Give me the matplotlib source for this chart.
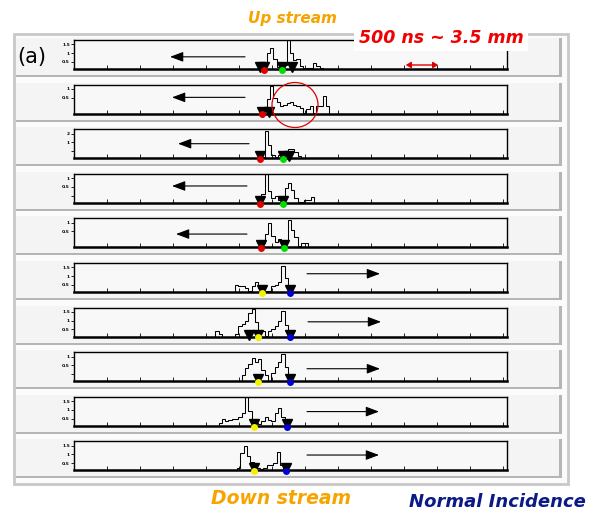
import numpy as np
import matplotlib
matplotlib.use("Agg")
import matplotlib.pyplot as plt
from matplotlib.patches import Rectangle, Ellipse, FancyArrowPatch

W, H = 593, 513
BIN = 50  # ns
XMAX = 6560

# histogram starts (ns) and bin heights (normalised counts)
starts = [2870, 2870, 2840, 2790, 2840, 2440, 2140, 2540, 2190, 2470]
hist1 = [0.1, 0.55, 0.72, 0.35, 0.06, 0.06, 0.15, 1.0, 0.55, 0.3, 0.35, 0.12, 0.05, 0.05, 0.05, 0.2, 0.12, 0.05]
hist2 = [0.15, 0.5, 0.95, 0.55, 0.4, 0.25, 0.3, 0.35, 0.4, 0.3, 0.25, 0.2, 0.02, 0.15, 0.25, 0.02, 0.27, 0.27, 0.62, 0.27]
hist3 = [0.05, 0.94, 0.45, 0.1, 0.05, 0.1, 0.15, 0.2, 0.3, 0.3, 0.2, 0.08, 0.02]
hist4 = [0.05, 0.3, 1.0, 0.4, 0.15, 0.25, 0.1, 0.25, 0.5, 0.68, 0.45, 0.15, 0.02, 0.02, 0.1, 0.1, 0.2]
hist5 = [0.15, 0.45, 0.85, 0.4, 0.2, 0.3, 0.2, 0.25, 0.95, 0.6, 0.35, 0.05, 0.15, 0.15]
hist6 = [0.25, 0.2, 0.2, 0.15, 0.05, 0.2, 0.33, 0.15, 0.02, 0.02, 0.02, 0.2, 0.25, 0.35, 0.9, 0.5, 0.1]
hist7 = [0.2, 0.1, 0, 0, 0, 0, 0.1, 0.35, 0.45, 0.55, 0.8, 0.95, 0.5, 0.2, 0.2, 0.02, 0.2, 0.25, 0.35, 0.55, 0.9, 0.4, 0.1]
hist8 = [0.2, 0.45, 0.6, 0.8, 0.65, 0.75, 0.4, 0.2, 0.02, 0.3, 0.5, 0.65, 0.95, 0.5, 0.1]
hist9 = [0.1, 0.25, 0.15, 0.2, 0.25, 0.25, 0.3, 0.45, 1.0, 0.5, 0.2, 0.1, 0.05, 0.15, 0.3, 0.2, 0.15, 0.45, 0.6, 0.3, 0.1]
hist10 = [0.1, 0.6, 0.85, 0.5, 0.3, 0.12, 0.1, 0.05, 0.1, 0.2, 0.2, 0.25, 0.65, 0.2, 0.05]
hists = [hist1, hist2, hist3, hist4, hist5, hist6, hist7, hist8, hist9, hist10]

# trigger markers: (time ns, dot colour or None)
markers = [
    [(2818, None), (2879, "red"), (3152, "green"), (3303, None)],
    [(2848, "red"), (2955, None)],
    [(2818, "red"), (3167, "green"), (3258, None)],
    [(2818, "red"), (3167, "green")],
    [(2833, "red"), (3182, "green")],
    [(2848, "yellow"), (3273, "blue")],
    [(2652, None), (2788, "yellow"), (3273, "blue")],
    [(2788, "yellow"), (3273, "blue")],
    [(2727, "yellow"), (3227, "blue")],
    [(2727, "yellow"), (3212, "blue")],
]
# direction arrows: (tail ns, tip ns, height fraction)
arrows = [
    (2591, 1455, 0.42), (2591, 1485, 0.56), (2652, 1576, 0.50), (2621, 1485, 0.58), (2621, 1545, 0.46),
    (3530, 4636, 0.63), (3545, 4652, 0.51), (3530, 4636, 0.43), (3530, 4621, 0.49), (3530, 4621, 0.53),
]
ytick_labels = [["1.5", "1", "0.5"], ["1", "0.5"], ["2", "1", ""], ["1", "0.5", ""], ["1", "0.5"],
                ["1.5", "1", "0.5"], ["1.5", "1", "0.5"], ["1", "0.5", ""], ["1.5", "1", "0.5"], ["1.5", "1", "0.5"]]

dot_colors = {"red": "#e00000", "green": "#00dd00", "yellow": "#f2f200", "blue": "#0000d0"}

fig = plt.figure(figsize=(W / 100, H / 100), dpi=100)
fig.patch.set_facecolor("white")


def fx(px):
    return px / W


def fy(py):
    return 1 - py / H


# outer frame
fig.patches.append(Rectangle((fx(14), fy(484)), fx(568) - fx(14), fy(34) - fy(484),
                             transform=fig.transFigure, facecolor="#fbfbfb",
                             edgecolor="#c8c8c8", lw=2, zorder=-3))

AX_L, AX_R = 74, 507
for i in range(10):
    top = 40 + 44.6 * i
    axh = 29
    # strip
    st = top - 2
    sh = 37
    fig.patches.append(Rectangle((fx(16), fy(st + sh)), fx(559) - fx(16), fy(st) - fy(st + sh),
                                 transform=fig.transFigure, facecolor="#f4f4f4",
                                 edgecolor="none", zorder=-2))
    fig.patches.append(Rectangle((fx(559), fy(st + sh)), fx(3), fy(st) - fy(st + sh),
                                 transform=fig.transFigure, facecolor="#b5b5b5",
                                 edgecolor="none", zorder=-2))
    fig.patches.append(Rectangle((fx(16), fy(st + sh + 2)), fx(562) - fx(16), fy(0) - fy(2),
                                 transform=fig.transFigure, facecolor="#b5b5b5",
                                 edgecolor="none", zorder=-2))

    ax = fig.add_axes([fx(AX_L), fy(top + axh), fx(AX_R) - fx(AX_L), fy(top) - fy(top + axh)])
    ax.set_zorder(1)
    ax.set_facecolor("#f8f8f8")
    h = hists[i]
    edges = starts[i] + BIN * np.arange(len(h) + 1)
    ax.stairs(h, edges, color="black", lw=0.75, baseline=0)
    ax.set_xlim(0, XMAX)
    ax.set_ylim(0, 1.0)
    ax.set_xticks(np.arange(500, 6600, 500))
    ax.set_xticklabels([])
    labs = ytick_labels[i]
    pos = [0.85, 0.55, 0.25][:len(labs)]
    ax.set_yticks(pos)
    ax.set_yticklabels(labs, fontsize=3.2, fontweight="bold")
    ax.tick_params(axis="x", direction="in", length=3, width=0.6, pad=1)
    ax.tick_params(axis="y", direction="out", length=2, width=0.6, pad=1)
    for s in ["top", "left", "right"]:
        ax.spines[s].set_linewidth(1.0)
    ax.spines["bottom"].set_linewidth(1.8)

    for (t, c) in markers[i]:
        ax.plot([t], [0.07], marker="v", color="black", markersize=7.5, clip_on=False, zorder=5,
                transform=ax.get_xaxis_transform())
        if c is not None:
            ax.plot([t], [-0.03], marker="o", color=dot_colors[c], markersize=5, markeredgewidth=0,
                    clip_on=False, zorder=6, transform=ax.get_xaxis_transform())

    tail, tip, yy = arrows[i]
    ax.annotate("", xy=(tip, yy), xytext=(tail, yy), xycoords=ax.get_xaxis_transform(),
                textcoords=ax.get_xaxis_transform(),
                arrowprops=dict(arrowstyle="-|>,head_length=0.8,head_width=0.3", lw=0.8,
                                color="black", shrinkA=0, shrinkB=0))

# red circle in panel 2
fig.patches.append(Ellipse((fx(295), fy(105)), fx(46), fy(0) - fy(45), transform=fig.transFigure,
                           facecolor="none", edgecolor="#e00000", lw=0.9, zorder=10))

fig.text(fx(292), fy(18), "Up stream", color="#f7a400", fontsize=11, fontweight="bold",
         style="italic", ha="center", va="center")
fig.text(fx(281), fy(498), "Down stream", color="#f7a400", fontsize=13.5, fontweight="bold",
         style="italic", ha="center", va="center")
fig.text(fx(497), fy(502), "Normal Incidence", color="#0c1a86", fontsize=13, fontweight="bold",
         style="italic", ha="center", va="center")
fig.text(fx(32), fy(57), "(a)", color="black", fontsize=15, ha="center", va="center")
fig.text(fx(441), fy(38), "500 ns ~ 3.5 mm", color="#f00000", fontsize=12.5, fontweight="bold",
         style="italic", ha="center", va="center", zorder=20,
         bbox=dict(facecolor="white", edgecolor="none", pad=3))
fig.patches.append(FancyArrowPatch(
    (fx(403), fy(65)), (fx(441), fy(65)), transform=fig.transFigure,
    arrowstyle="<|-|>,head_length=3,head_width=1.8", color="#e00000", lw=1.0, zorder=20))

fig.savefig("out.png", dpi=100)
